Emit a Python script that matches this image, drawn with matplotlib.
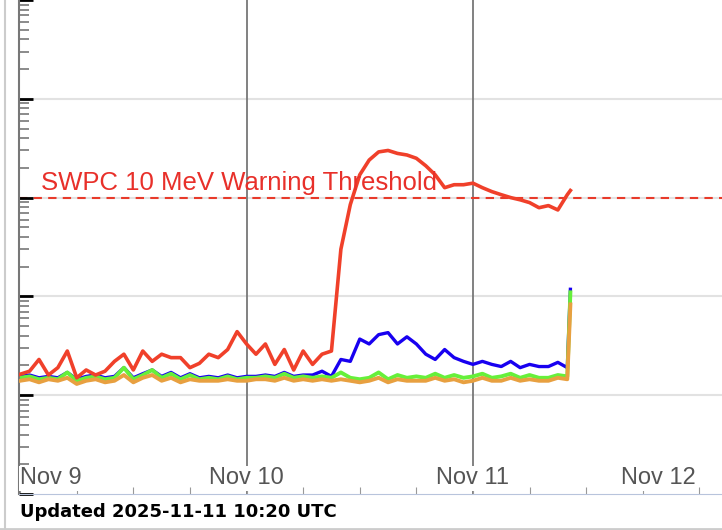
import matplotlib
matplotlib.use("Agg")
import matplotlib.pyplot as plt
import numpy as np
from matplotlib.ticker import LogLocator, NullFormatter

plt.rcParams['font.family'] = ['Liberation Sans', 'DejaVu Sans']

hours = list(range(59)) + [58.33]
p10 = [0.163,0.175,0.23,0.16,0.19,0.28,0.15,0.18,0.16,0.175,0.22,0.26,0.18,0.28,0.22,0.26,0.24,0.24,0.19,0.21,
       0.26,0.24,0.29,0.44,0.33,0.26,0.33,0.205,0.29,0.18,0.28,0.205,0.26,0.28,3.0,8.5,17,24,29,30,
       28,27,25,21,17,12.6,13.5,13.5,14,12.6,11.5,10.7,10,9.5,8.9,7.9,8.3,7.5,10.7,11.8]
p50 = [0.155,0.16,0.15,0.155,0.15,0.17,0.145,0.155,0.16,0.15,0.155,0.19,0.15,0.165,0.18,0.155,0.17,0.15,0.165,0.15,
       0.155,0.15,0.16,0.15,0.155,0.155,0.16,0.155,0.17,0.155,0.16,0.16,0.175,0.155,0.23,0.22,0.37,0.33,0.41,0.43,
       0.33,0.39,0.33,0.26,0.23,0.29,0.24,0.22,0.205,0.22,0.205,0.195,0.22,0.19,0.205,0.195,0.195,0.215,0.19,1.18]
p100 = [0.15,0.155,0.145,0.15,0.145,0.17,0.14,0.15,0.155,0.145,0.15,0.19,0.145,0.16,0.18,0.15,0.165,0.145,0.16,0.145,
        0.15,0.145,0.155,0.145,0.15,0.15,0.155,0.15,0.165,0.15,0.155,0.15,0.155,0.15,0.17,0.15,0.145,0.15,0.17,0.145,
        0.16,0.15,0.155,0.15,0.165,0.15,0.16,0.15,0.155,0.165,0.15,0.155,0.165,0.15,0.16,0.15,0.15,0.16,0.155,1.1]
p500 = [0.14,0.145,0.135,0.145,0.14,0.15,0.13,0.14,0.145,0.135,0.14,0.16,0.135,0.15,0.16,0.14,0.15,0.135,0.145,0.14,
        0.14,0.14,0.145,0.14,0.14,0.145,0.145,0.14,0.15,0.14,0.145,0.14,0.145,0.14,0.145,0.14,0.135,0.14,0.15,0.135,
        0.145,0.14,0.14,0.14,0.15,0.14,0.145,0.135,0.14,0.15,0.14,0.14,0.15,0.14,0.145,0.14,0.14,0.15,0.145,0.83]
day_labels = ["Nov 9", "Nov 10", "Nov 11", "Nov 12"]
threshold = 10

fig = plt.figure(figsize=(7.22, 5.30), dpi=100)
ax = fig.add_axes([19/722, 36/530, 703/722, 494/530])
t = np.array(hours) / 24.0
ax.plot(t, p500, color="#e8a040", lw=2.8, zorder=3)
ax.plot(t, p100, color="#66f03a", lw=2.8, zorder=2)
ax.plot(t, p50, color="#1800f0", lw=2.4, zorder=1.5)
ax.plot(t, p10, color="#f0402a", lw=2.6, zorder=4)
ax.axhline(threshold, color="#e83a2a", ls=(0, (4, 3)), lw=1.5, zorder=1)
ax.text(0.09, 14, "SWPC 10 MeV Warning Threshold", color="#e8302a", fontsize=18.5, va="center", zorder=5)

ax.set_yscale("log")
ax.set_ylim(0.01, 1000)
ax.set_xlim(-0.005, 3.1)
for d in [1, 2]:
    ax.axvline(d, color="#777777", lw=1.3, zorder=0.5)
for v in [0.1, 1, 10, 100]:
    ax.axhline(v, color="#e2e2e2", lw=1.5, zorder=0.2)
ax.yaxis.set_major_locator(LogLocator(base=10, numticks=10))
ax.yaxis.set_minor_locator(LogLocator(base=10, subs=np.arange(2, 10), numticks=10))
ax.yaxis.set_minor_formatter(NullFormatter())
ax.set_yticklabels([])
ax.tick_params(axis="y", which="major", direction="in", length=10, width=2, color="black")
ax.tick_params(axis="y", which="minor", direction="in", length=7, width=1.2, color="#777777")
ax.set_xticks(np.arange(0, 3.1, 0.25))
ax.set_xticklabels([])
ax.tick_params(axis="x", direction="in", length=5, color="#999999")
for s in ["top", "right"]:
    ax.spines[s].set_visible(False)
ax.spines["left"].set_color("#777777")
ax.spines["left"].set_linewidth(1.5)
ax.spines["bottom"].set_color("#b8c4dc")

xpos = [0.0, 1.0, 2.0, 2.82]
for x, lab, ha in zip(xpos, day_labels, ["left", "center", "center", "center"]):
    ax.text(x, 0.0112, lab, ha=ha, va="bottom", color="#555555", fontsize=17,
            bbox=dict(facecolor="white", edgecolor="none", pad=1), zorder=6)

fig.text(20/722, 1 - 512/530, "Updated 2025-11-11 10:20 UTC", fontsize=13, fontweight="bold",
         va="center", family=["DejaVu Sans"])
fig.add_artist(plt.Line2D([5/722, 5/722], [0, 1], color="#cccccc", lw=1.5))
fig.add_artist(plt.Line2D([0, 1], [1/530, 1/530], color="#cccccc", lw=2))
fig.savefig("out.png", dpi=100)
